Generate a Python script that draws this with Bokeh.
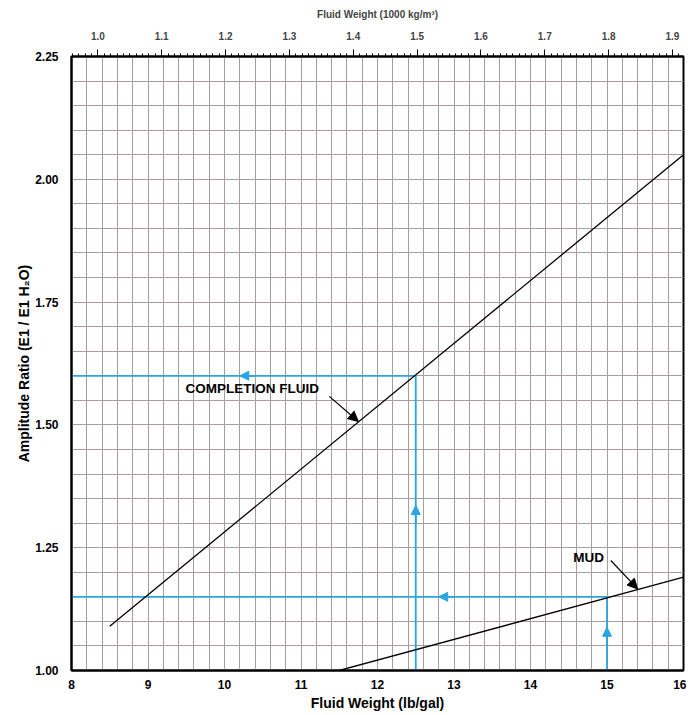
from bokeh.plotting import figure
from bokeh.models import (Range1d, LinearAxis, FixedTicker, SingleIntervalTicker,
                          Arrow, NormalHead, ColumnDataSource, CustomJSTickFormatter)
from bokeh.core.properties import value
from bokeh.embed import file_html
from bokeh.resources import INLINE

# ---- data ----
LB_PER_GAL_PER_1000KGM3 = 8.345
x_ticks = [8, 9, 10, 11, 12, 13, 14, 15, 16]
y_ticks = [1.00, 1.25, 1.50, 1.75, 2.00, 2.25]
top_ticks = [1.0, 1.1, 1.2, 1.3, 1.4, 1.5, 1.6, 1.7, 1.8, 1.9]

completion_x = [8.5, 16.0]
completion_y = [1.09, 2.05]
mud_x = [11.5, 16.0]
mud_y = [1.00, 1.19]

# example readings (blue)
read1_x = [8.0, 12.5, 12.5]
read1_y = [1.60, 1.60, 1.00]
read2_x = [8.0, 15.0, 15.0]
read2_y = [1.15, 1.15, 1.00]

# blue arrowheads: start -> tip (along the reading lines)
blue_arrow_x0 = [10.40, 12.5, 13.00, 15.0]
blue_arrow_y0 = [1.60, 1.30, 1.15, 1.05]
blue_arrow_x1 = [10.20, 12.5, 12.80, 15.0]
blue_arrow_y1 = [1.60, 1.336, 1.15, 1.088]

# labels and their pointers
label_text = ["COMPLETION FLUID", "MUD"]
label_x = [9.49, 14.56]
label_y = [1.574, 1.230]
pointer_x0 = [11.37, 15.05]
pointer_y0 = [1.558, 1.224]
pointer_x1 = [11.75, 15.40]
pointer_y1 = [1.507, 1.166]

BLUE = "#2aa5de"
GRID = "#a89d9d"
FONT = "Liberation Sans"

p = figure(width=686, height=714, output_backend="svg", toolbar_location=None,
           x_range=Range1d(8, 16), y_range=Range1d(1.0, 2.25),
           min_border_left=71, min_border_right=3, min_border_top=56, min_border_bottom=44,
           x_axis_location="below", y_axis_location="left")

p.outline_line_color = "black"
p.outline_line_width = 2
p.background_fill_color = "white"
p.border_fill_color = "white"

# grid
p.xgrid[0].ticker = SingleIntervalTicker(interval=0.2)
p.ygrid[0].ticker = SingleIntervalTicker(interval=0.05)
for g in (p.xgrid[0], p.ygrid[0]):
    g.grid_line_color = GRID
    g.grid_line_width = 1

# bottom / left axes
xa = p.xaxis[0]
xa.ticker = FixedTicker(ticks=x_ticks)
xa.axis_label = "Fluid Weight (lb/gal)"
ya = p.yaxis[0]
ya.ticker = FixedTicker(ticks=y_ticks)
ya.formatter = CustomJSTickFormatter(code="return tick.toFixed(2);")
ya.axis_label = "Amplitude Ratio (E1 / E1 H\u2082O)"
for ax in (xa, ya):
    ax.axis_line_color = "black"
    ax.axis_line_width = 2
    ax.major_tick_line_color = None
    ax.minor_tick_line_color = None
    ax.major_label_text_font = FONT
    ax.major_label_text_font_style = "bold"
    ax.major_label_text_font_size = "12px"
    ax.major_label_text_color = "black"
    ax.axis_label_text_font = FONT
    ax.axis_label_text_font_style = "bold"
    ax.axis_label_text_font_size = "14px"
    ax.axis_label_text_color = "black"
xa.major_label_standoff = 3
xa.axis_label_standoff = 3
ya.major_label_standoff = 7
ya.axis_label_standoff = 0

# top axis in 1000 kg/m3
p.extra_x_ranges = {"density": Range1d(8 / LB_PER_GAL_PER_1000KGM3, 16 / LB_PER_GAL_PER_1000KGM3)}
minor = [round(0.96 + 0.01 * i, 2) for i in range(97)]
top = LinearAxis(x_range_name="density",
                 ticker=FixedTicker(ticks=top_ticks, minor_ticks=minor),
                 axis_label="Fluid Weight (1000 kg/m\u00b3)")
top.formatter = CustomJSTickFormatter(code="return tick.toFixed(1);")
top.axis_line_color = "black"
top.axis_line_width = 2
top.major_tick_out = 7
top.major_tick_in = 0
top.minor_tick_out = 3
top.minor_tick_in = 0
top.major_tick_line_color = "black"
top.minor_tick_line_color = "black"
top.major_label_text_font = FONT
top.major_label_text_font_style = "bold"
top.major_label_text_font_size = "10px"
top.axis_label_text_font = FONT
top.axis_label_text_font_style = "bold"
top.axis_label_text_font_size = "10px"
top.major_label_standoff = 10
top.axis_label_standoff = 9
p.add_layout(top, "above")

# reading lines (blue)
p.line(read1_x, read1_y, line_color=BLUE, line_width=1.8)
p.line(read2_x, read2_y, line_color=BLUE, line_width=1.8)

# calibration lines
p.line(completion_x, completion_y, line_color="black", line_width=1.3)
p.line(mud_x, mud_y, line_color="black", line_width=1.3)

for x0, y0, x1, y1 in zip(blue_arrow_x0, blue_arrow_y0, blue_arrow_x1, blue_arrow_y1):
    p.add_layout(Arrow(end=NormalHead(size=9, fill_color=BLUE, line_color=BLUE, line_width=1),
                       x_start=x0, y_start=y0, x_end=x1, y_end=y1,
                       line_color=BLUE, line_width=1.8))

for x0, y0, x1, y1 in zip(pointer_x0, pointer_y0, pointer_x1, pointer_y1):
    p.add_layout(Arrow(end=NormalHead(size=10, fill_color="black", line_color="black", line_width=1),
                       x_start=x0, y_start=y0, x_end=x1, y_end=y1,
                       line_color="black", line_width=1.2))

src = ColumnDataSource(dict(x=label_x, y=label_y, t=label_text))
p.text(x="x", y="y", text="t", source=src, text_font=value(FONT),
       text_font_style="bold", text_font_size="13.5px", text_color="black",
       text_baseline="middle", text_align="left")

open("out.html", "w").write(file_html(p, INLINE))
